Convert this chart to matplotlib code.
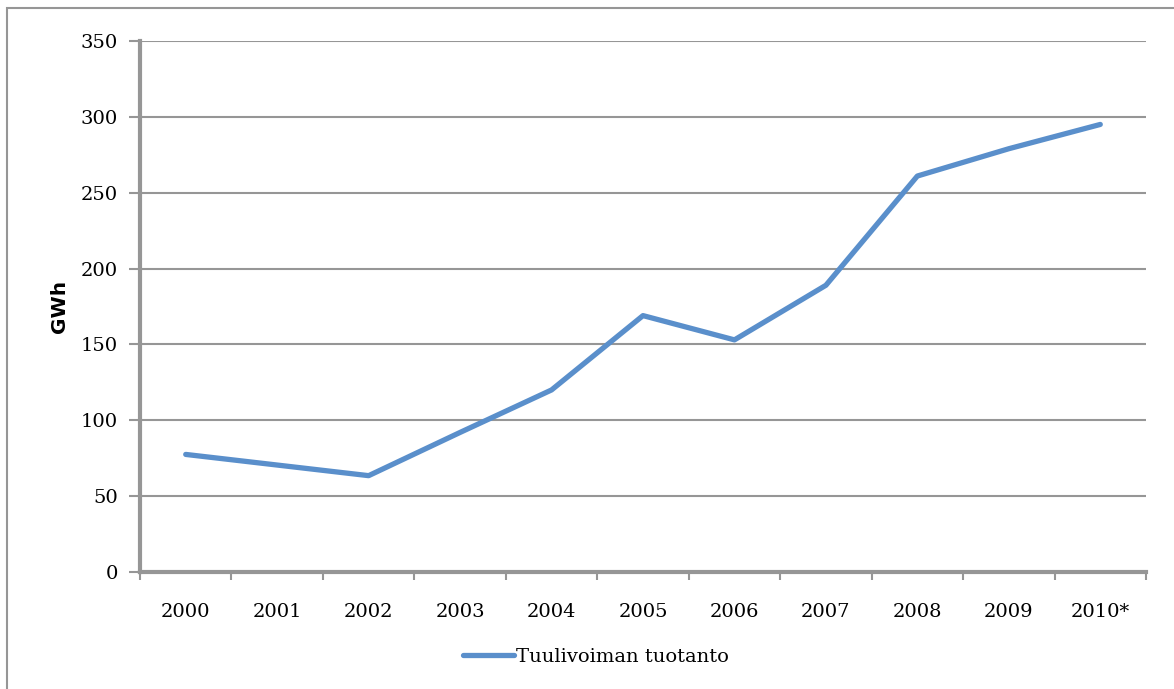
import matplotlib
matplotlib.use("Agg")
import matplotlib.pyplot as plt
from matplotlib.patches import Rectangle
import numpy as np

years = ["2000", "2001", "2002", "2003", "2004", "2005",
         "2006", "2007", "2008", "2009", "2010*"]
production_gwh = [77.5, 70.5, 63.5, 92, 120, 169, 153, 189, 261, 279, 295]
y_ticks = [0, 50, 100, 150, 200, 250, 300, 350]

line_color = "#5A8FCB"
grid_color = "#969696"
serif = "DejaVu Serif"

fig = plt.figure(figsize=(11.74, 6.89), dpi=100)
ax = fig.add_axes([140 / 1174, 1 - 572 / 689, (1146 - 140) / 1174, (572 - 41) / 689])

# outer chart frame (open on the right and bottom edges)
fig.patches.append(Rectangle((7 / 1174, -0.05), 1.2, 1 - 8 / 689 + 0.05,
                             transform=fig.transFigure, fill=False,
                             edgecolor=grid_color, linewidth=1.5))

x = np.arange(len(years))
ax.plot(x, production_gwh, color=line_color, linewidth=3.8,
        solid_capstyle="round", solid_joinstyle="round",
        label="Tuulivoiman tuotanto", zorder=3)

ax.set_xlim(-0.5, len(years) - 0.5)
ax.set_ylim(0, 350)
ax.set_yticks(y_ticks)
ax.set_yticklabels([str(v) for v in y_ticks], fontsize=14, family=serif)
ax.set_xticks(x)
ax.set_xticklabels(years, fontsize=14, family=serif)
ax.set_xticks(np.arange(-0.5, len(years)), minor=True)

ax.tick_params(axis="x", which="major", length=0, pad=22)
ax.tick_params(axis="x", which="minor", length=6, width=1.5, color=grid_color)
ax.tick_params(axis="y", length=8, width=1.5, color=grid_color, pad=8)

ax.grid(axis="y", color=grid_color, linewidth=1.5, zorder=0)
ax.set_axisbelow(True)
for side in ("top", "right"):
    ax.spines[side].set_visible(False)
for side in ("left", "bottom"):
    ax.spines[side].set_color(grid_color)
    ax.spines[side].set_linewidth(3)

ax.set_ylabel("GWh", fontsize=14.5, fontweight="bold", family="DejaVu Sans", labelpad=8)

leg = fig.legend(loc="center", bbox_to_anchor=(596 / 1174, 1 - 657 / 689),
                 frameon=False, prop={"family": serif, "size": 14},
                 handlelength=2.6, handletextpad=0.1)

fig.savefig("out.png", dpi=100, facecolor="white")
